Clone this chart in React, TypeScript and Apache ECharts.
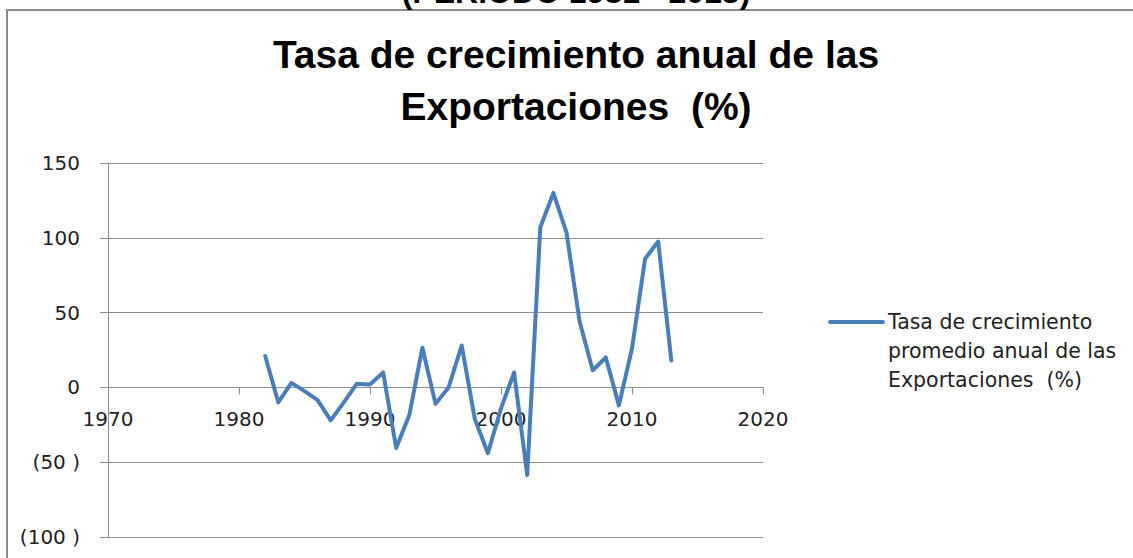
import React, { useEffect, useRef } from "react";
import * as echarts from "echarts";

const years = [
  1982, 1983, 1984, 1985, 1986, 1987, 1988, 1989, 1990, 1991, 1992, 1993, 1994, 1995, 1996, 1997,
  1998, 1999, 2000, 2001, 2002, 2003, 2004, 2005, 2006, 2007, 2008, 2009, 2010, 2011, 2012, 2013,
];
const growth = [
  21, -10, 3, -2.5, -8.5, -22, -10, 2.5, 2, 10, -40.5, -18.5, 26.5, -11, 0, 28,
  -21, -44, -14, 10, -58.5, 107, 130, 103.5, 44, 11.5, 20, -12, 26, 86, 97.5, 18,
];
const seriesName = "Tasa de crecimiento\npromedio anual de las\nExportaciones  (%)";
const titleText = "Tasa de crecimiento anual de las\nExportaciones  (%)";
const topText = "(PERIODO 1981 - 2013)";
const xMin = 1970;
const xMax = 2020;
const yMin = -100;
const yMax = 150;

const W = 1133;
const H = 558;
const GRID = { left: 108, right: 370, top: 163, bottom: 21 };
const LINE_COLOR = "#4a7ebb";
const AXIS_COLOR = "#8c8c8c";

export default function App() {
  const ref = useRef<HTMLDivElement>(null);
  useEffect(() => {
    if (!ref.current) return;
    const chart = echarts.init(ref.current, null, { renderer: "svg" });
    const axisFont = { fontFamily: "DejaVu Sans", fontSize: 20, color: "#222" };
    const plotH = H - GRID.top - GRID.bottom;
    const zeroOffset = -((0 - yMin) / (yMax - yMin)) * plotH;
    chart.setOption({
      animation: false,
      backgroundColor: "#fff",
      graphic: [
        {
          type: "rect",
          shape: { x: 7, y: 10, width: 1140, height: 560 },
          style: { fill: "none", stroke: "#8a8a8a", lineWidth: 2 },
          silent: true,
        },
        {
          type: "text",
          x: 576,
          y: 8,
          style: {
            text: topText,
            fontFamily: "Liberation Sans",
            fontWeight: "bold",
            fontSize: 32,
            fill: "#000",
            align: "center",
            verticalAlign: "bottom",
          },
          silent: true,
        },
        {
          type: "text",
          x: 576,
          y: 80,
          style: {
            text: titleText,
            fontFamily: "Liberation Sans",
            fontWeight: "bold",
            fontSize: 39,
            lineHeight: 52,
            fill: "#000",
            align: "center",
            verticalAlign: "middle",
          },
          silent: true,
        },
        {
          type: "line",
          shape: { x1: 830, y1: 322, x2: 883, y2: 322 },
          style: { stroke: LINE_COLOR, lineWidth: 4, lineCap: "round" },
          silent: true,
        },
        {
          type: "text",
          x: 888,
          y: 322 - 14.5,
          style: {
            text: seriesName,
            fontFamily: "DejaVu Sans",
            fontSize: 20.5,
            lineHeight: 29,
            fill: "#222",
            align: "left",
            verticalAlign: "top",
          },
          silent: true,
        },
      ],
      grid: { ...GRID, containLabel: false, outerBoundsMode: "none" },
      xAxis: {
        type: "value",
        min: xMin,
        max: xMax,
        interval: 10,
        position: "bottom",
        offset: zeroOffset,
        axisLine: { onZero: false, lineStyle: { color: AXIS_COLOR, width: 1 } },
        axisTick: { show: true, inside: false, length: 7, lineStyle: { color: AXIS_COLOR } },
        axisLabel: { ...axisFont, margin: 22, formatter: (v: number) => String(v) },
        splitLine: { show: false },
      },
      yAxis: {
        type: "value",
        min: yMin,
        max: yMax,
        interval: 50,
        axisLine: { show: true, lineStyle: { color: AXIS_COLOR, width: 1 } },
        axisTick: { show: true, length: 8, lineStyle: { color: AXIS_COLOR } },
        axisLabel: {
          ...axisFont,
          margin: 28,
          formatter: (v: number) => (v < 0 ? `(${-v} )` : `${v}`),
        },
        splitLine: { show: true, lineStyle: { color: AXIS_COLOR, width: 1 } },
      },
      series: [
        {
          name: seriesName,
          type: "line",
          data: years.map((y, i) => [y, growth[i]]),
          showSymbol: false,
          symbol: "none",
          lineStyle: { color: LINE_COLOR, width: 4, join: "round", cap: "round" },
          itemStyle: { color: LINE_COLOR },
        },
      ],
    });
    return () => chart.dispose();
  }, []);
  return (
    <div
      ref={ref}
      style={{ position: "absolute", left: 0, top: 0, width: W, height: H }}
    />
  );
}
